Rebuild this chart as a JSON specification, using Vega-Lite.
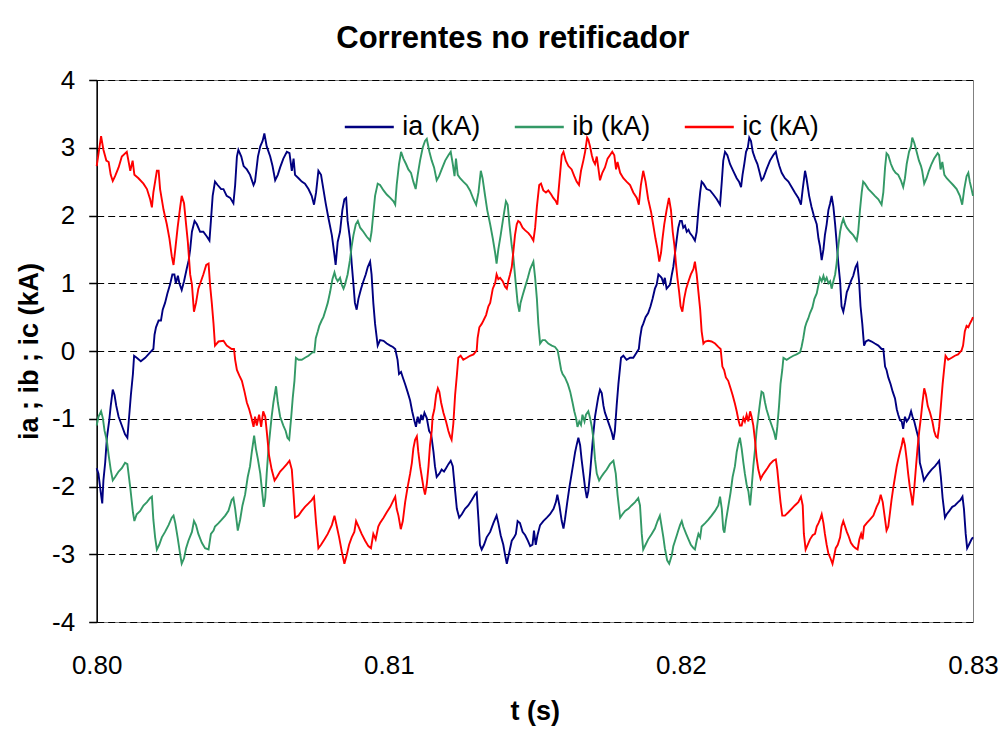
{
"$schema": "https://vega.github.io/schema/vega-lite/v6.json",
"width": 876.3, "height": 542,
"autosize": {"type": "none"},
"padding": {"left": 96.7, "top": 80, "right": 27, "bottom": 107},
"background": "white",
"config": {"font": "Liberation Sans", "view": {"stroke": "#808080", "strokeWidth": 1}},
"title": {"text": "Correntes no retificador", "fontSize": 31, "fontWeight": "bold", "color": "black", "anchor": "middle", "frame": "group", "dx": -22, "offset": 12},
"datasets": {
"ia": [
{"t":0.80000,"v":-1.73},{"t":0.80006,"v":-1.81},{"t":0.80014,"v":-2.09},{"t":0.80019,"v":-2.25},{"t":0.80023,"v":-1.91},{"t":0.80029,"v":-1.65},{"t":0.80035,"v":-1.28},{"t":0.80043,"v":-1.02},{"t":0.80048,"v":-0.81},{"t":0.80055,"v":-0.57},{"t":0.80061,"v":-0.65},{"t":0.80067,"v":-0.81},{"t":0.80075,"v":-0.97},{"t":0.80086,"v":-1.10},{"t":0.80097,"v":-1.23},{"t":0.80105,"v":-1.28},{"t":0.80111,"v":-0.97},{"t":0.80117,"v":-0.65},{"t":0.80124,"v":-0.34},{"t":0.80128,"v":-0.07},{"t":0.80137,"v":-0.10},{"t":0.80151,"v":-0.15},{"t":0.80166,"v":-0.10},{"t":0.80183,"v":-0.02},{"t":0.80194,"v":0.03},{"t":0.80198,"v":0.24},{"t":0.80203,"v":0.35},{"t":0.80212,"v":0.45},{"t":0.80220,"v":0.45},{"t":0.80226,"v":0.61},{"t":0.80234,"v":0.71},{"t":0.80242,"v":0.85},{"t":0.80251,"v":0.98},{"t":0.80259,"v":1.13},{"t":0.80266,"v":1.13},{"t":0.80271,"v":1.00},{"t":0.80278,"v":1.11},{"t":0.80283,"v":1.00},{"t":0.80291,"v":0.90},{"t":0.80299,"v":1.03},{"t":0.80308,"v":1.21},{"t":0.80315,"v":1.34},{"t":0.80320,"v":1.50},{"t":0.80326,"v":1.76},{"t":0.80335,"v":1.92},{"t":0.80343,"v":1.87},{"t":0.80354,"v":1.76},{"t":0.80365,"v":1.76},{"t":0.80377,"v":1.69},{"t":0.80386,"v":1.63},{"t":0.80391,"v":1.92},{"t":0.80397,"v":2.29},{"t":0.80405,"v":2.50},{"t":0.80414,"v":2.45},{"t":0.80426,"v":2.39},{"t":0.80434,"v":2.39},{"t":0.80445,"v":2.29},{"t":0.80457,"v":2.26},{"t":0.80468,"v":2.18},{"t":0.80474,"v":2.45},{"t":0.80480,"v":2.87},{"t":0.80485,"v":2.97},{"t":0.80495,"v":2.87},{"t":0.80503,"v":2.73},{"t":0.80514,"v":2.68},{"t":0.80525,"v":2.60},{"t":0.80537,"v":2.45},{"t":0.80542,"v":2.50},{"t":0.80552,"v":2.87},{"t":0.80560,"v":3.02},{"t":0.80568,"v":3.10},{"t":0.80574,"v":3.21},{"t":0.80582,"v":3.02},{"t":0.80594,"v":2.87},{"t":0.80602,"v":2.73},{"t":0.80611,"v":2.52},{"t":0.80620,"v":2.60},{"t":0.80628,"v":2.71},{"t":0.80639,"v":2.84},{"t":0.80651,"v":2.94},{"t":0.80660,"v":2.92},{"t":0.80668,"v":2.66},{"t":0.80674,"v":2.84},{"t":0.80679,"v":2.60},{"t":0.80691,"v":2.55},{"t":0.80702,"v":2.50},{"t":0.80713,"v":2.47},{"t":0.80725,"v":2.39},{"t":0.80736,"v":2.29},{"t":0.80744,"v":2.16},{"t":0.80751,"v":2.34},{"t":0.80759,"v":2.66},{"t":0.80768,"v":2.60},{"t":0.80776,"v":2.39},{"t":0.80784,"v":2.18},{"t":0.80793,"v":1.97},{"t":0.80805,"v":1.71},{"t":0.80813,"v":1.45},{"t":0.80818,"v":1.27},{"t":0.80825,"v":1.61},{"t":0.80833,"v":1.76},{"t":0.80841,"v":2.08},{"t":0.80848,"v":2.24},{"t":0.80854,"v":2.26},{"t":0.80859,"v":1.92},{"t":0.80867,"v":1.66},{"t":0.80873,"v":1.29},{"t":0.80879,"v":0.98},{"t":0.80884,"v":0.71},{"t":0.80890,"v":0.61},{"t":0.80896,"v":0.77},{"t":0.80905,"v":0.92},{"t":0.80913,"v":1.03},{"t":0.80921,"v":1.13},{"t":0.80928,"v":1.24},{"t":0.80936,"v":1.32},{"t":0.80941,"v":1.13},{"t":0.80947,"v":0.71},{"t":0.80953,"v":0.40},{"t":0.80962,"v":0.08},{"t":0.80970,"v":0.16},{"t":0.80982,"v":0.15},{"t":0.80993,"v":0.11},{"t":0.81005,"v":0.08},{"t":0.81014,"v":0.06},{"t":0.81022,"v":0.03},{"t":0.81030,"v":-0.13},{"t":0.81035,"v":-0.34},{"t":0.81042,"v":-0.31},{"t":0.81048,"v":-0.39},{"t":0.81056,"v":-0.49},{"t":0.81064,"v":-0.60},{"t":0.81073,"v":-0.73},{"t":0.81080,"v":-0.89},{"t":0.81087,"v":-1.02},{"t":0.81093,"v":-1.12},{"t":0.81099,"v":-0.97},{"t":0.81105,"v":-1.07},{"t":0.81111,"v":-0.94},{"t":0.81116,"v":-1.02},{"t":0.81122,"v":-0.91},{"t":0.81130,"v":-0.99},{"t":0.81138,"v":-1.18},{"t":0.81145,"v":-1.23},{"t":0.81153,"v":-1.49},{"t":0.81158,"v":-1.70},{"t":0.81164,"v":-1.86},{"t":0.81173,"v":-1.81},{"t":0.81181,"v":-1.75},{"t":0.81189,"v":-1.78},{"t":0.81196,"v":-1.73},{"t":0.81204,"v":-1.67},{"t":0.81212,"v":-1.62},{"t":0.81219,"v":-1.70},{"t":0.81226,"v":-2.02},{"t":0.81233,"v":-2.33},{"t":0.81241,"v":-2.46},{"t":0.81250,"v":-2.41},{"t":0.81261,"v":-2.33},{"t":0.81272,"v":-2.28},{"t":0.81284,"v":-2.20},{"t":0.81295,"v":-2.12},{"t":0.81301,"v":-2.09},{"t":0.81307,"v":-2.49},{"t":0.81312,"v":-2.86},{"t":0.81318,"v":-2.93},{"t":0.81326,"v":-2.86},{"t":0.81335,"v":-2.75},{"t":0.81347,"v":-2.67},{"t":0.81358,"v":-2.54},{"t":0.81369,"v":-2.43},{"t":0.81375,"v":-2.54},{"t":0.81383,"v":-2.72},{"t":0.81392,"v":-2.86},{"t":0.81398,"v":-3.01},{"t":0.81404,"v":-3.14},{"t":0.81413,"v":-2.96},{"t":0.81421,"v":-2.80},{"t":0.81429,"v":-2.75},{"t":0.81435,"v":-2.70},{"t":0.81441,"v":-2.51},{"t":0.81449,"v":-2.54},{"t":0.81458,"v":-2.67},{"t":0.81467,"v":-2.72},{"t":0.81476,"v":-2.80},{"t":0.81484,"v":-2.88},{"t":0.81492,"v":-2.86},{"t":0.81497,"v":-2.65},{"t":0.81503,"v":-2.86},{"t":0.81509,"v":-2.72},{"t":0.81518,"v":-2.57},{"t":0.81529,"v":-2.51},{"t":0.81541,"v":-2.46},{"t":0.81552,"v":-2.41},{"t":0.81564,"v":-2.33},{"t":0.81572,"v":-2.23},{"t":0.81577,"v":-2.12},{"t":0.81584,"v":-2.28},{"t":0.81592,"v":-2.51},{"t":0.81598,"v":-2.62},{"t":0.81603,"v":-2.49},{"t":0.81611,"v":-2.23},{"t":0.81618,"v":-2.02},{"t":0.81626,"v":-1.81},{"t":0.81632,"v":-1.65},{"t":0.81638,"v":-1.49},{"t":0.81643,"v":-1.39},{"t":0.81649,"v":-1.28},{"t":0.81655,"v":-1.39},{"t":0.81660,"v":-1.60},{"t":0.81666,"v":-1.81},{"t":0.81672,"v":-2.02},{"t":0.81678,"v":-2.17},{"t":0.81683,"v":-2.07},{"t":0.81689,"v":-1.81},{"t":0.81695,"v":-1.49},{"t":0.81700,"v":-1.23},{"t":0.81706,"v":-0.97},{"t":0.81712,"v":-0.81},{"t":0.81717,"v":-0.68},{"t":0.81723,"v":-0.57},{"t":0.81729,"v":-0.62},{"t":0.81735,"v":-0.81},{"t":0.81740,"v":-0.91},{"t":0.81749,"v":-1.02},{"t":0.81757,"v":-1.12},{"t":0.81763,"v":-1.20},{"t":0.81769,"v":-1.31},{"t":0.81774,"v":-1.18},{"t":0.81780,"v":-0.81},{"t":0.81786,"v":-0.49},{"t":0.81792,"v":-0.23},{"t":0.81795,"v":-0.10},{"t":0.81803,"v":-0.07},{"t":0.81814,"v":-0.13},{"t":0.81826,"v":-0.10},{"t":0.81837,"v":-0.10},{"t":0.81849,"v":-0.02},{"t":0.81856,"v":0.03},{"t":0.81860,"v":0.19},{"t":0.81866,"v":0.35},{"t":0.81871,"v":0.40},{"t":0.81879,"v":0.50},{"t":0.81888,"v":0.56},{"t":0.81896,"v":0.66},{"t":0.81903,"v":0.77},{"t":0.81911,"v":0.92},{"t":0.81917,"v":0.98},{"t":0.81923,"v":1.13},{"t":0.81928,"v":1.11},{"t":0.81934,"v":1.08},{"t":0.81940,"v":1.00},{"t":0.81945,"v":1.08},{"t":0.81951,"v":0.92},{"t":0.81957,"v":0.95},{"t":0.81963,"v":0.98},{"t":0.81969,"v":1.13},{"t":0.81974,"v":1.24},{"t":0.81980,"v":1.45},{"t":0.81986,"v":1.66},{"t":0.81991,"v":1.82},{"t":0.81997,"v":1.92},{"t":0.82003,"v":1.92},{"t":0.82008,"v":1.82},{"t":0.82014,"v":1.85},{"t":0.82020,"v":1.76},{"t":0.82026,"v":1.79},{"t":0.82031,"v":1.74},{"t":0.82040,"v":1.69},{"t":0.82048,"v":1.63},{"t":0.82054,"v":1.76},{"t":0.82060,"v":2.08},{"t":0.82066,"v":2.34},{"t":0.82071,"v":2.50},{"t":0.82077,"v":2.47},{"t":0.82088,"v":2.39},{"t":0.82100,"v":2.37},{"t":0.82111,"v":2.31},{"t":0.82123,"v":2.24},{"t":0.82134,"v":2.16},{"t":0.82140,"v":2.50},{"t":0.82145,"v":2.81},{"t":0.82151,"v":2.94},{"t":0.82159,"v":2.89},{"t":0.82168,"v":2.76},{"t":0.82179,"v":2.66},{"t":0.82191,"v":2.55},{"t":0.82199,"v":2.50},{"t":0.82206,"v":2.42},{"t":0.82211,"v":2.60},{"t":0.82217,"v":2.76},{"t":0.82223,"v":2.94},{"t":0.82229,"v":3.00},{"t":0.82234,"v":3.15},{"t":0.82240,"v":3.10},{"t":0.82246,"v":2.94},{"t":0.82254,"v":2.84},{"t":0.82262,"v":2.76},{"t":0.82268,"v":2.66},{"t":0.82276,"v":2.52},{"t":0.82282,"v":2.55},{"t":0.82293,"v":2.68},{"t":0.82305,"v":2.81},{"t":0.82316,"v":2.89},{"t":0.82325,"v":2.94},{"t":0.82330,"v":2.84},{"t":0.82337,"v":2.73},{"t":0.82345,"v":2.63},{"t":0.82356,"v":2.55},{"t":0.82368,"v":2.50},{"t":0.82379,"v":2.42},{"t":0.82390,"v":2.34},{"t":0.82402,"v":2.26},{"t":0.82411,"v":2.16},{"t":0.82417,"v":2.39},{"t":0.82425,"v":2.66},{"t":0.82430,"v":2.55},{"t":0.82439,"v":2.29},{"t":0.82447,"v":2.13},{"t":0.82455,"v":2.00},{"t":0.82465,"v":1.87},{"t":0.82471,"v":1.66},{"t":0.82476,"v":1.55},{"t":0.82482,"v":1.34},{"t":0.82488,"v":1.50},{"t":0.82493,"v":1.71},{"t":0.82499,"v":1.87},{"t":0.82505,"v":2.08},{"t":0.82511,"v":2.18},{"t":0.82516,"v":2.29},{"t":0.82522,"v":2.13},{"t":0.82528,"v":1.87},{"t":0.82533,"v":1.61},{"t":0.82539,"v":1.29},{"t":0.82545,"v":1.03},{"t":0.82550,"v":0.66},{"t":0.82556,"v":0.58},{"t":0.82562,"v":0.71},{"t":0.82568,"v":0.87},{"t":0.82573,"v":0.92},{"t":0.82582,"v":1.03},{"t":0.82590,"v":1.11},{"t":0.82598,"v":1.24},{"t":0.82604,"v":1.29},{"t":0.82610,"v":1.03},{"t":0.82615,"v":0.66},{"t":0.82621,"v":0.40},{"t":0.82627,"v":0.08},{"t":0.82633,"v":0.14},{"t":0.82642,"v":0.16},{"t":0.82653,"v":0.14},{"t":0.82664,"v":0.11},{"t":0.82676,"v":0.08},{"t":0.82687,"v":0.03},{"t":0.82693,"v":0.03},{"t":0.82699,"v":-0.23},{"t":0.82704,"v":-0.28},{"t":0.82710,"v":-0.39},{"t":0.82718,"v":-0.49},{"t":0.82725,"v":-0.60},{"t":0.82733,"v":-0.70},{"t":0.82739,"v":-0.86},{"t":0.82744,"v":-0.94},{"t":0.82750,"v":-1.02},{"t":0.82756,"v":-1.04},{"t":0.82761,"v":-1.15},{"t":0.82767,"v":-0.97},{"t":0.82773,"v":-1.04},{"t":0.82781,"v":-0.99},{"t":0.82788,"v":-0.89},{"t":0.82793,"v":-0.97},{"t":0.82799,"v":-1.04},{"t":0.82807,"v":-1.18},{"t":0.82813,"v":-1.28},{"t":0.82818,"v":-1.65},{"t":0.82824,"v":-1.75},{"t":0.82832,"v":-1.91},{"t":0.82839,"v":-1.86},{"t":0.82847,"v":-1.81},{"t":0.82858,"v":-1.75},{"t":0.82870,"v":-1.70},{"t":0.82879,"v":-1.65},{"t":0.82884,"v":-1.62},{"t":0.82890,"v":-1.86},{"t":0.82896,"v":-2.17},{"t":0.82904,"v":-2.46},{"t":0.82910,"v":-2.41},{"t":0.82919,"v":-2.36},{"t":0.82929,"v":-2.30},{"t":0.82938,"v":-2.28},{"t":0.82949,"v":-2.23},{"t":0.82957,"v":-2.20},{"t":0.82964,"v":-2.15},{"t":0.82969,"v":-2.33},{"t":0.82975,"v":-2.70},{"t":0.82980,"v":-2.91},{"t":0.82986,"v":-2.86},{"t":0.82995,"v":-2.78},{"t":0.83000,"v":-2.75}
],
"ib": [
{"t":0.80000,"v":-1.10},{"t":0.80006,"v":-0.97},{"t":0.80015,"v":-0.89},{"t":0.80021,"v":-0.99},{"t":0.80027,"v":-1.18},{"t":0.80035,"v":-1.33},{"t":0.80041,"v":-1.54},{"t":0.80048,"v":-1.75},{"t":0.80055,"v":-1.91},{"t":0.80063,"v":-1.86},{"t":0.80075,"v":-1.78},{"t":0.80086,"v":-1.73},{"t":0.80097,"v":-1.65},{"t":0.80105,"v":-1.67},{"t":0.80115,"v":-2.02},{"t":0.80124,"v":-2.38},{"t":0.80129,"v":-2.51},{"t":0.80137,"v":-2.41},{"t":0.80149,"v":-2.36},{"t":0.80160,"v":-2.28},{"t":0.80172,"v":-2.23},{"t":0.80183,"v":-2.17},{"t":0.80189,"v":-2.15},{"t":0.80194,"v":-2.49},{"t":0.80200,"v":-2.75},{"t":0.80206,"v":-2.93},{"t":0.80214,"v":-2.86},{"t":0.80223,"v":-2.75},{"t":0.80234,"v":-2.67},{"t":0.80246,"v":-2.57},{"t":0.80257,"v":-2.46},{"t":0.80263,"v":-2.43},{"t":0.80269,"v":-2.54},{"t":0.80277,"v":-2.75},{"t":0.80286,"v":-3.01},{"t":0.80291,"v":-3.14},{"t":0.80299,"v":-3.06},{"t":0.80306,"v":-2.91},{"t":0.80314,"v":-2.80},{"t":0.80326,"v":-2.67},{"t":0.80333,"v":-2.51},{"t":0.80340,"v":-2.57},{"t":0.80348,"v":-2.70},{"t":0.80360,"v":-2.83},{"t":0.80371,"v":-2.91},{"t":0.80383,"v":-2.93},{"t":0.80391,"v":-2.70},{"t":0.80400,"v":-2.65},{"t":0.80405,"v":-2.59},{"t":0.80417,"v":-2.54},{"t":0.80428,"v":-2.49},{"t":0.80440,"v":-2.43},{"t":0.80451,"v":-2.36},{"t":0.80462,"v":-2.20},{"t":0.80468,"v":-2.17},{"t":0.80474,"v":-2.33},{"t":0.80483,"v":-2.65},{"t":0.80491,"v":-2.49},{"t":0.80499,"v":-2.28},{"t":0.80508,"v":-2.12},{"t":0.80517,"v":-1.86},{"t":0.80525,"v":-1.70},{"t":0.80531,"v":-1.49},{"t":0.80539,"v":-1.25},{"t":0.80545,"v":-1.44},{"t":0.80552,"v":-1.60},{"t":0.80560,"v":-1.81},{"t":0.80565,"v":-2.02},{"t":0.80572,"v":-2.30},{"t":0.80577,"v":-2.17},{"t":0.80582,"v":-1.81},{"t":0.80588,"v":-1.44},{"t":0.80594,"v":-1.18},{"t":0.80599,"v":-0.97},{"t":0.80605,"v":-0.76},{"t":0.80611,"v":-0.60},{"t":0.80614,"v":-0.52},{"t":0.80620,"v":-0.76},{"t":0.80628,"v":-0.97},{"t":0.80639,"v":-1.10},{"t":0.80647,"v":-1.18},{"t":0.80653,"v":-1.28},{"t":0.80659,"v":-1.31},{"t":0.80666,"v":-0.97},{"t":0.80671,"v":-0.70},{"t":0.80677,"v":-0.44},{"t":0.80682,"v":-0.10},{"t":0.80691,"v":-0.13},{"t":0.80702,"v":-0.13},{"t":0.80713,"v":-0.10},{"t":0.80725,"v":-0.07},{"t":0.80739,"v":-0.02},{"t":0.80745,"v":-0.02},{"t":0.80750,"v":0.19},{"t":0.80757,"v":0.29},{"t":0.80762,"v":0.37},{"t":0.80770,"v":0.45},{"t":0.80776,"v":0.50},{"t":0.80784,"v":0.61},{"t":0.80791,"v":0.71},{"t":0.80799,"v":0.87},{"t":0.80807,"v":1.06},{"t":0.80814,"v":1.16},{"t":0.80819,"v":1.08},{"t":0.80825,"v":1.03},{"t":0.80833,"v":1.08},{"t":0.80839,"v":0.98},{"t":0.80845,"v":0.92},{"t":0.80850,"v":0.98},{"t":0.80859,"v":1.13},{"t":0.80867,"v":1.34},{"t":0.80873,"v":1.55},{"t":0.80879,"v":1.71},{"t":0.80887,"v":1.87},{"t":0.80894,"v":1.92},{"t":0.80902,"v":1.82},{"t":0.80913,"v":1.76},{"t":0.80924,"v":1.69},{"t":0.80936,"v":1.63},{"t":0.80941,"v":1.76},{"t":0.80947,"v":2.03},{"t":0.80953,"v":2.29},{"t":0.80962,"v":2.47},{"t":0.80970,"v":2.45},{"t":0.80982,"v":2.37},{"t":0.80993,"v":2.31},{"t":0.81005,"v":2.26},{"t":0.81016,"v":2.21},{"t":0.81022,"v":2.16},{"t":0.81027,"v":2.45},{"t":0.81035,"v":2.76},{"t":0.81042,"v":2.94},{"t":0.81050,"v":2.84},{"t":0.81059,"v":2.76},{"t":0.81067,"v":2.68},{"t":0.81076,"v":2.63},{"t":0.81084,"v":2.50},{"t":0.81092,"v":2.39},{"t":0.81099,"v":2.60},{"t":0.81107,"v":2.81},{"t":0.81116,"v":3.00},{"t":0.81124,"v":3.10},{"t":0.81130,"v":3.13},{"t":0.81139,"v":2.94},{"t":0.81147,"v":2.81},{"t":0.81155,"v":2.71},{"t":0.81164,"v":2.52},{"t":0.81172,"v":2.58},{"t":0.81181,"v":2.68},{"t":0.81193,"v":2.81},{"t":0.81204,"v":2.89},{"t":0.81212,"v":2.94},{"t":0.81219,"v":2.76},{"t":0.81225,"v":2.58},{"t":0.81230,"v":2.84},{"t":0.81236,"v":2.60},{"t":0.81244,"v":2.55},{"t":0.81255,"v":2.50},{"t":0.81267,"v":2.45},{"t":0.81278,"v":2.37},{"t":0.81290,"v":2.24},{"t":0.81299,"v":2.16},{"t":0.81307,"v":2.34},{"t":0.81315,"v":2.66},{"t":0.81321,"v":2.55},{"t":0.81329,"v":2.31},{"t":0.81337,"v":2.08},{"t":0.81347,"v":1.87},{"t":0.81356,"v":1.66},{"t":0.81364,"v":1.45},{"t":0.81369,"v":1.29},{"t":0.81375,"v":1.50},{"t":0.81383,"v":1.71},{"t":0.81392,"v":1.97},{"t":0.81401,"v":2.21},{"t":0.81407,"v":2.16},{"t":0.81413,"v":1.87},{"t":0.81421,"v":1.55},{"t":0.81426,"v":1.40},{"t":0.81435,"v":0.98},{"t":0.81441,"v":0.71},{"t":0.81447,"v":0.58},{"t":0.81451,"v":0.71},{"t":0.81458,"v":0.82},{"t":0.81467,"v":0.95},{"t":0.81476,"v":1.08},{"t":0.81484,"v":1.21},{"t":0.81492,"v":1.29},{"t":0.81495,"v":1.32},{"t":0.81501,"v":1.08},{"t":0.81507,"v":0.77},{"t":0.81512,"v":0.40},{"t":0.81518,"v":0.11},{"t":0.81526,"v":0.16},{"t":0.81535,"v":0.16},{"t":0.81546,"v":0.11},{"t":0.81558,"v":0.08},{"t":0.81569,"v":0.06},{"t":0.81578,"v":0.01},{"t":0.81584,"v":-0.13},{"t":0.81590,"v":-0.28},{"t":0.81595,"v":-0.34},{"t":0.81603,"v":-0.39},{"t":0.81613,"v":-0.49},{"t":0.81621,"v":-0.60},{"t":0.81629,"v":-0.76},{"t":0.81635,"v":-0.89},{"t":0.81641,"v":-0.99},{"t":0.81646,"v":-1.12},{"t":0.81652,"v":-1.04},{"t":0.81658,"v":-1.09},{"t":0.81663,"v":-0.94},{"t":0.81670,"v":-1.04},{"t":0.81675,"v":-0.94},{"t":0.81683,"v":-0.89},{"t":0.81689,"v":-0.99},{"t":0.81695,"v":-1.12},{"t":0.81700,"v":-1.28},{"t":0.81706,"v":-1.60},{"t":0.81712,"v":-1.81},{"t":0.81720,"v":-1.91},{"t":0.81727,"v":-1.86},{"t":0.81735,"v":-1.81},{"t":0.81746,"v":-1.75},{"t":0.81757,"v":-1.67},{"t":0.81769,"v":-1.62},{"t":0.81777,"v":-1.81},{"t":0.81783,"v":-2.12},{"t":0.81792,"v":-2.46},{"t":0.81800,"v":-2.41},{"t":0.81809,"v":-2.36},{"t":0.81820,"v":-2.33},{"t":0.81831,"v":-2.28},{"t":0.81843,"v":-2.23},{"t":0.81854,"v":-2.17},{"t":0.81860,"v":-2.28},{"t":0.81866,"v":-2.70},{"t":0.81871,"v":-2.93},{"t":0.81879,"v":-2.86},{"t":0.81888,"v":-2.78},{"t":0.81900,"v":-2.70},{"t":0.81911,"v":-2.62},{"t":0.81920,"v":-2.51},{"t":0.81928,"v":-2.43},{"t":0.81934,"v":-2.59},{"t":0.81940,"v":-2.75},{"t":0.81945,"v":-2.91},{"t":0.81953,"v":-3.09},{"t":0.81960,"v":-3.14},{"t":0.81969,"v":-3.01},{"t":0.81974,"v":-2.88},{"t":0.81980,"v":-2.80},{"t":0.81986,"v":-2.72},{"t":0.81991,"v":-2.65},{"t":0.81997,"v":-2.57},{"t":0.82003,"v":-2.51},{"t":0.82008,"v":-2.59},{"t":0.82018,"v":-2.70},{"t":0.82026,"v":-2.78},{"t":0.82034,"v":-2.86},{"t":0.82043,"v":-2.91},{"t":0.82048,"v":-2.93},{"t":0.82054,"v":-2.80},{"t":0.82060,"v":-2.70},{"t":0.82066,"v":-2.75},{"t":0.82071,"v":-2.59},{"t":0.82083,"v":-2.54},{"t":0.82094,"v":-2.49},{"t":0.82105,"v":-2.43},{"t":0.82117,"v":-2.36},{"t":0.82128,"v":-2.28},{"t":0.82134,"v":-2.15},{"t":0.82140,"v":-2.33},{"t":0.82145,"v":-2.63},{"t":0.82149,"v":-2.68},{"t":0.82154,"v":-2.51},{"t":0.82162,"v":-2.30},{"t":0.82170,"v":-2.09},{"t":0.82177,"v":-1.86},{"t":0.82185,"v":-1.70},{"t":0.82191,"v":-1.49},{"t":0.82197,"v":-1.36},{"t":0.82202,"v":-1.28},{"t":0.82208,"v":-1.44},{"t":0.82214,"v":-1.65},{"t":0.82219,"v":-1.81},{"t":0.82225,"v":-1.97},{"t":0.82231,"v":-2.07},{"t":0.82237,"v":-2.28},{"t":0.82242,"v":-2.02},{"t":0.82248,"v":-1.70},{"t":0.82254,"v":-1.44},{"t":0.82259,"v":-1.18},{"t":0.82265,"v":-0.97},{"t":0.82271,"v":-0.76},{"t":0.82276,"v":-0.60},{"t":0.82282,"v":-0.62},{"t":0.82288,"v":-0.76},{"t":0.82293,"v":-0.86},{"t":0.82302,"v":-0.99},{"t":0.82311,"v":-1.10},{"t":0.82319,"v":-1.20},{"t":0.82325,"v":-1.31},{"t":0.82330,"v":-1.12},{"t":0.82336,"v":-0.81},{"t":0.82341,"v":-0.49},{"t":0.82347,"v":-0.28},{"t":0.82351,"v":-0.10},{"t":0.82362,"v":-0.13},{"t":0.82373,"v":-0.10},{"t":0.82385,"v":-0.07},{"t":0.82396,"v":-0.05},{"t":0.82408,"v":-0.02},{"t":0.82413,"v":0.06},{"t":0.82419,"v":0.19},{"t":0.82425,"v":0.35},{"t":0.82430,"v":0.42},{"t":0.82436,"v":0.48},{"t":0.82442,"v":0.56},{"t":0.82450,"v":0.64},{"t":0.82457,"v":0.77},{"t":0.82465,"v":0.85},{"t":0.82471,"v":0.98},{"t":0.82476,"v":1.08},{"t":0.82482,"v":1.03},{"t":0.82488,"v":1.11},{"t":0.82493,"v":1.03},{"t":0.82499,"v":1.08},{"t":0.82505,"v":1.00},{"t":0.82511,"v":1.03},{"t":0.82516,"v":0.92},{"t":0.82522,"v":1.03},{"t":0.82528,"v":1.13},{"t":0.82533,"v":1.29},{"t":0.82539,"v":1.55},{"t":0.82545,"v":1.76},{"t":0.82550,"v":1.87},{"t":0.82556,"v":1.95},{"t":0.82562,"v":1.87},{"t":0.82568,"v":1.82},{"t":0.82579,"v":1.76},{"t":0.82590,"v":1.71},{"t":0.82602,"v":1.63},{"t":0.82607,"v":1.76},{"t":0.82613,"v":2.08},{"t":0.82619,"v":2.34},{"t":0.82624,"v":2.50},{"t":0.82630,"v":2.47},{"t":0.82642,"v":2.39},{"t":0.82653,"v":2.34},{"t":0.82664,"v":2.29},{"t":0.82676,"v":2.24},{"t":0.82687,"v":2.16},{"t":0.82693,"v":2.34},{"t":0.82699,"v":2.71},{"t":0.82704,"v":2.92},{"t":0.82710,"v":2.89},{"t":0.82719,"v":2.76},{"t":0.82727,"v":2.68},{"t":0.82735,"v":2.63},{"t":0.82744,"v":2.60},{"t":0.82753,"v":2.52},{"t":0.82761,"v":2.42},{"t":0.82767,"v":2.55},{"t":0.82773,"v":2.76},{"t":0.82781,"v":2.94},{"t":0.82788,"v":3.02},{"t":0.82792,"v":3.15},{"t":0.82799,"v":3.07},{"t":0.82807,"v":2.94},{"t":0.82815,"v":2.81},{"t":0.82822,"v":2.73},{"t":0.82826,"v":2.66},{"t":0.82833,"v":2.47},{"t":0.82841,"v":2.55},{"t":0.82849,"v":2.66},{"t":0.82858,"v":2.76},{"t":0.82867,"v":2.84},{"t":0.82879,"v":2.92},{"t":0.82884,"v":2.89},{"t":0.82889,"v":2.68},{"t":0.82895,"v":2.79},{"t":0.82902,"v":2.60},{"t":0.82910,"v":2.55},{"t":0.82921,"v":2.50},{"t":0.82932,"v":2.45},{"t":0.82944,"v":2.39},{"t":0.82955,"v":2.29},{"t":0.82963,"v":2.16},{"t":0.82970,"v":2.39},{"t":0.82978,"v":2.58},{"t":0.82984,"v":2.63},{"t":0.82989,"v":2.50},{"t":0.82995,"v":2.39},{"t":0.83000,"v":2.29}
],
"ic": [
{"t":0.80000,"v":2.73},{"t":0.80015,"v":3.17},{"t":0.80023,"v":2.97},{"t":0.80033,"v":2.81},{"t":0.80041,"v":2.79},{"t":0.80048,"v":2.60},{"t":0.80055,"v":2.51},{"t":0.80063,"v":2.58},{"t":0.80075,"v":2.71},{"t":0.80086,"v":2.87},{"t":0.80103,"v":2.94},{"t":0.80115,"v":2.66},{"t":0.80123,"v":2.81},{"t":0.80129,"v":2.60},{"t":0.80143,"v":2.55},{"t":0.80160,"v":2.47},{"t":0.80172,"v":2.39},{"t":0.80183,"v":2.24},{"t":0.80189,"v":2.12},{"t":0.80194,"v":2.34},{"t":0.80200,"v":2.50},{"t":0.80206,"v":2.66},{"t":0.80212,"v":2.66},{"t":0.80217,"v":2.39},{"t":0.80229,"v":2.08},{"t":0.80240,"v":1.87},{"t":0.80249,"v":1.66},{"t":0.80257,"v":1.40},{"t":0.80263,"v":1.27},{"t":0.80269,"v":1.50},{"t":0.80277,"v":1.82},{"t":0.80286,"v":2.13},{"t":0.80291,"v":2.29},{"t":0.80299,"v":2.18},{"t":0.80306,"v":1.87},{"t":0.80312,"v":1.61},{"t":0.80320,"v":1.13},{"t":0.80326,"v":0.98},{"t":0.80333,"v":0.58},{"t":0.80340,"v":0.71},{"t":0.80348,"v":0.92},{"t":0.80357,"v":1.03},{"t":0.80365,"v":1.13},{"t":0.80375,"v":1.27},{"t":0.80383,"v":1.29},{"t":0.80388,"v":0.98},{"t":0.80394,"v":0.71},{"t":0.80400,"v":0.40},{"t":0.80405,"v":0.08},{"t":0.80417,"v":0.14},{"t":0.80434,"v":0.15},{"t":0.80445,"v":0.08},{"t":0.80462,"v":0.03},{"t":0.80470,"v":0.03},{"t":0.80474,"v":-0.13},{"t":0.80480,"v":-0.28},{"t":0.80488,"v":-0.36},{"t":0.80497,"v":-0.44},{"t":0.80506,"v":-0.60},{"t":0.80514,"v":-0.76},{"t":0.80522,"v":-0.86},{"t":0.80529,"v":-0.97},{"t":0.80537,"v":-1.12},{"t":0.80542,"v":-0.97},{"t":0.80548,"v":-1.10},{"t":0.80556,"v":-0.94},{"t":0.80563,"v":-1.12},{"t":0.80570,"v":-0.89},{"t":0.80577,"v":-0.97},{"t":0.80582,"v":-1.18},{"t":0.80590,"v":-1.54},{"t":0.80599,"v":-1.75},{"t":0.80609,"v":-1.91},{"t":0.80617,"v":-1.86},{"t":0.80628,"v":-1.78},{"t":0.80639,"v":-1.73},{"t":0.80651,"v":-1.67},{"t":0.80660,"v":-1.62},{"t":0.80668,"v":-1.75},{"t":0.80674,"v":-2.12},{"t":0.80679,"v":-2.46},{"t":0.80691,"v":-2.43},{"t":0.80702,"v":-2.36},{"t":0.80713,"v":-2.30},{"t":0.80725,"v":-2.25},{"t":0.80736,"v":-2.20},{"t":0.80744,"v":-2.15},{"t":0.80751,"v":-2.54},{"t":0.80759,"v":-2.91},{"t":0.80768,"v":-2.86},{"t":0.80780,"v":-2.78},{"t":0.80791,"v":-2.70},{"t":0.80805,"v":-2.57},{"t":0.80814,"v":-2.43},{"t":0.80822,"v":-2.59},{"t":0.80830,"v":-2.75},{"t":0.80839,"v":-2.96},{"t":0.80848,"v":-3.14},{"t":0.80856,"v":-3.01},{"t":0.80864,"v":-2.86},{"t":0.80873,"v":-2.75},{"t":0.80882,"v":-2.67},{"t":0.80888,"v":-2.51},{"t":0.80896,"v":-2.59},{"t":0.80907,"v":-2.70},{"t":0.80919,"v":-2.80},{"t":0.80930,"v":-2.88},{"t":0.80939,"v":-2.91},{"t":0.80947,"v":-2.70},{"t":0.80955,"v":-2.78},{"t":0.80964,"v":-2.59},{"t":0.80970,"v":-2.54},{"t":0.80982,"v":-2.46},{"t":0.80993,"v":-2.38},{"t":0.81005,"v":-2.30},{"t":0.81016,"v":-2.20},{"t":0.81022,"v":-2.15},{"t":0.81027,"v":-2.33},{"t":0.81033,"v":-2.43},{"t":0.81041,"v":-2.63},{"t":0.81048,"v":-2.51},{"t":0.81056,"v":-2.23},{"t":0.81064,"v":-2.02},{"t":0.81073,"v":-1.81},{"t":0.81079,"v":-1.65},{"t":0.81084,"v":-1.44},{"t":0.81090,"v":-1.31},{"t":0.81096,"v":-1.26},{"t":0.81101,"v":-1.49},{"t":0.81107,"v":-1.70},{"t":0.81113,"v":-1.86},{"t":0.81119,"v":-2.02},{"t":0.81124,"v":-2.12},{"t":0.81130,"v":-1.97},{"t":0.81136,"v":-1.70},{"t":0.81141,"v":-1.39},{"t":0.81147,"v":-1.18},{"t":0.81150,"v":-0.97},{"t":0.81156,"v":-0.86},{"t":0.81162,"v":-0.65},{"t":0.81168,"v":-0.55},{"t":0.81173,"v":-0.60},{"t":0.81179,"v":-0.76},{"t":0.81187,"v":-0.91},{"t":0.81196,"v":-1.04},{"t":0.81204,"v":-1.18},{"t":0.81210,"v":-1.26},{"t":0.81215,"v":-1.31},{"t":0.81221,"v":-1.07},{"t":0.81227,"v":-0.65},{"t":0.81233,"v":-0.36},{"t":0.81238,"v":-0.10},{"t":0.81246,"v":-0.07},{"t":0.81255,"v":-0.13},{"t":0.81267,"v":-0.10},{"t":0.81278,"v":-0.07},{"t":0.81290,"v":-0.05},{"t":0.81301,"v":0.01},{"t":0.81304,"v":0.19},{"t":0.81310,"v":0.35},{"t":0.81318,"v":0.40},{"t":0.81324,"v":0.45},{"t":0.81333,"v":0.53},{"t":0.81341,"v":0.66},{"t":0.81347,"v":0.71},{"t":0.81356,"v":0.92},{"t":0.81364,"v":1.00},{"t":0.81369,"v":1.13},{"t":0.81375,"v":1.06},{"t":0.81381,"v":1.08},{"t":0.81390,"v":1.03},{"t":0.81398,"v":0.95},{"t":0.81404,"v":0.92},{"t":0.81409,"v":1.03},{"t":0.81415,"v":1.13},{"t":0.81421,"v":1.24},{"t":0.81426,"v":1.45},{"t":0.81432,"v":1.71},{"t":0.81438,"v":1.87},{"t":0.81443,"v":1.92},{"t":0.81449,"v":1.90},{"t":0.81458,"v":1.82},{"t":0.81467,"v":1.78},{"t":0.81478,"v":1.74},{"t":0.81487,"v":1.69},{"t":0.81495,"v":1.63},{"t":0.81501,"v":1.82},{"t":0.81507,"v":2.13},{"t":0.81515,"v":2.45},{"t":0.81521,"v":2.47},{"t":0.81529,"v":2.37},{"t":0.81538,"v":2.34},{"t":0.81546,"v":2.37},{"t":0.81556,"v":2.31},{"t":0.81563,"v":2.26},{"t":0.81572,"v":2.21},{"t":0.81577,"v":2.16},{"t":0.81584,"v":2.50},{"t":0.81592,"v":2.89},{"t":0.81598,"v":2.94},{"t":0.81606,"v":2.81},{"t":0.81615,"v":2.73},{"t":0.81626,"v":2.68},{"t":0.81635,"v":2.58},{"t":0.81643,"v":2.50},{"t":0.81651,"v":2.45},{"t":0.81658,"v":2.66},{"t":0.81666,"v":2.81},{"t":0.81672,"v":2.94},{"t":0.81679,"v":3.15},{"t":0.81683,"v":3.12},{"t":0.81689,"v":3.02},{"t":0.81695,"v":2.89},{"t":0.81700,"v":2.81},{"t":0.81706,"v":2.76},{"t":0.81712,"v":2.87},{"t":0.81717,"v":2.71},{"t":0.81723,"v":2.52},{"t":0.81731,"v":2.63},{"t":0.81740,"v":2.71},{"t":0.81749,"v":2.84},{"t":0.81757,"v":2.89},{"t":0.81765,"v":2.94},{"t":0.81772,"v":2.89},{"t":0.81778,"v":2.68},{"t":0.81783,"v":2.79},{"t":0.81792,"v":2.63},{"t":0.81803,"v":2.55},{"t":0.81814,"v":2.50},{"t":0.81826,"v":2.45},{"t":0.81837,"v":2.34},{"t":0.81849,"v":2.26},{"t":0.81856,"v":2.16},{"t":0.81863,"v":2.45},{"t":0.81871,"v":2.66},{"t":0.81879,"v":2.50},{"t":0.81888,"v":2.24},{"t":0.81898,"v":2.05},{"t":0.81905,"v":1.87},{"t":0.81913,"v":1.66},{"t":0.81920,"v":1.50},{"t":0.81926,"v":1.32},{"t":0.81932,"v":1.45},{"t":0.81937,"v":1.66},{"t":0.81943,"v":1.87},{"t":0.81951,"v":2.08},{"t":0.81959,"v":2.26},{"t":0.81966,"v":2.08},{"t":0.81972,"v":1.76},{"t":0.81978,"v":1.55},{"t":0.81983,"v":1.29},{"t":0.81988,"v":1.08},{"t":0.81994,"v":0.87},{"t":0.81999,"v":0.66},{"t":0.82005,"v":0.58},{"t":0.82011,"v":0.77},{"t":0.82018,"v":0.92},{"t":0.82026,"v":1.03},{"t":0.82034,"v":1.13},{"t":0.82043,"v":1.21},{"t":0.82048,"v":1.32},{"t":0.82054,"v":1.13},{"t":0.82060,"v":0.87},{"t":0.82066,"v":0.61},{"t":0.82071,"v":0.29},{"t":0.82077,"v":0.11},{"t":0.82083,"v":0.14},{"t":0.82094,"v":0.15},{"t":0.82105,"v":0.14},{"t":0.82117,"v":0.11},{"t":0.82128,"v":0.06},{"t":0.82136,"v":0.03},{"t":0.82142,"v":-0.23},{"t":0.82148,"v":-0.28},{"t":0.82154,"v":-0.39},{"t":0.82162,"v":-0.44},{"t":0.82170,"v":-0.55},{"t":0.82177,"v":-0.65},{"t":0.82185,"v":-0.78},{"t":0.82191,"v":-0.89},{"t":0.82197,"v":-1.02},{"t":0.82202,"v":-1.10},{"t":0.82208,"v":-1.10},{"t":0.82214,"v":-0.99},{"t":0.82219,"v":-1.04},{"t":0.82225,"v":-0.94},{"t":0.82231,"v":-1.04},{"t":0.82237,"v":-0.89},{"t":0.82242,"v":-0.97},{"t":0.82248,"v":-1.10},{"t":0.82254,"v":-1.33},{"t":0.82259,"v":-1.57},{"t":0.82265,"v":-1.75},{"t":0.82273,"v":-1.89},{"t":0.82280,"v":-1.83},{"t":0.82288,"v":-1.78},{"t":0.82296,"v":-1.73},{"t":0.82305,"v":-1.67},{"t":0.82316,"v":-1.62},{"t":0.82325,"v":-1.60},{"t":0.82330,"v":-1.75},{"t":0.82336,"v":-2.02},{"t":0.82341,"v":-2.23},{"t":0.82347,"v":-2.43},{"t":0.82356,"v":-2.43},{"t":0.82368,"v":-2.38},{"t":0.82379,"v":-2.33},{"t":0.82390,"v":-2.28},{"t":0.82402,"v":-2.23},{"t":0.82411,"v":-2.15},{"t":0.82417,"v":-2.28},{"t":0.82421,"v":-2.70},{"t":0.82427,"v":-2.93},{"t":0.82434,"v":-2.86},{"t":0.82442,"v":-2.78},{"t":0.82451,"v":-2.72},{"t":0.82459,"v":-2.70},{"t":0.82465,"v":-2.59},{"t":0.82471,"v":-2.54},{"t":0.82476,"v":-2.49},{"t":0.82482,"v":-2.41},{"t":0.82488,"v":-2.54},{"t":0.82493,"v":-2.70},{"t":0.82499,"v":-2.86},{"t":0.82505,"v":-2.99},{"t":0.82513,"v":-3.07},{"t":0.82519,"v":-3.14},{"t":0.82524,"v":-3.04},{"t":0.82530,"v":-2.91},{"t":0.82537,"v":-2.86},{"t":0.82545,"v":-2.75},{"t":0.82550,"v":-2.59},{"t":0.82556,"v":-2.51},{"t":0.82562,"v":-2.59},{"t":0.82568,"v":-2.67},{"t":0.82573,"v":-2.72},{"t":0.82582,"v":-2.83},{"t":0.82590,"v":-2.88},{"t":0.82598,"v":-2.91},{"t":0.82605,"v":-2.93},{"t":0.82611,"v":-2.78},{"t":0.82617,"v":-2.70},{"t":0.82622,"v":-2.78},{"t":0.82627,"v":-2.59},{"t":0.82636,"v":-2.54},{"t":0.82647,"v":-2.49},{"t":0.82659,"v":-2.43},{"t":0.82670,"v":-2.30},{"t":0.82678,"v":-2.23},{"t":0.82684,"v":-2.12},{"t":0.82691,"v":-2.23},{"t":0.82699,"v":-2.49},{"t":0.82704,"v":-2.65},{"t":0.82710,"v":-2.59},{"t":0.82716,"v":-2.38},{"t":0.82721,"v":-2.20},{"t":0.82727,"v":-2.02},{"t":0.82733,"v":-1.86},{"t":0.82739,"v":-1.70},{"t":0.82744,"v":-1.60},{"t":0.82750,"v":-1.49},{"t":0.82756,"v":-1.39},{"t":0.82761,"v":-1.28},{"t":0.82767,"v":-1.39},{"t":0.82773,"v":-1.60},{"t":0.82778,"v":-1.81},{"t":0.82784,"v":-2.02},{"t":0.82790,"v":-2.17},{"t":0.82793,"v":-2.28},{"t":0.82799,"v":-2.02},{"t":0.82805,"v":-1.70},{"t":0.82810,"v":-1.44},{"t":0.82816,"v":-1.18},{"t":0.82822,"v":-0.97},{"t":0.82827,"v":-0.76},{"t":0.82833,"v":-0.55},{"t":0.82839,"v":-0.65},{"t":0.82845,"v":-0.81},{"t":0.82853,"v":-0.91},{"t":0.82861,"v":-1.04},{"t":0.82867,"v":-1.18},{"t":0.82873,"v":-1.26},{"t":0.82879,"v":-1.28},{"t":0.82884,"v":-1.12},{"t":0.82890,"v":-0.81},{"t":0.82896,"v":-0.49},{"t":0.82902,"v":-0.23},{"t":0.82906,"v":-0.07},{"t":0.82915,"v":-0.13},{"t":0.82927,"v":-0.10},{"t":0.82938,"v":-0.07},{"t":0.82949,"v":-0.05},{"t":0.82961,"v":0.01},{"t":0.82966,"v":0.08},{"t":0.82972,"v":0.29},{"t":0.82978,"v":0.37},{"t":0.82984,"v":0.35},{"t":0.82989,"v":0.40},{"t":0.82995,"v":0.45},{"t":0.83000,"v":0.50}
]
},
"encoding": {
"x": {"field": "t", "type": "quantitative", "scale": {"domain": [0.8, 0.83], "nice": false, "zero": false},
 "axis": {"title": "t (s)", "values": [0.8, 0.81, 0.82, 0.83], "format": ".2f", "grid": false, "domain": false, "ticks": false, "labelFlush": false, "labelPadding": 30, "labelFontSize": 26, "labelColor": "black", "titleFontSize": 27, "titleFontWeight": "bold", "titleColor": "black", "titlePadding": 20}},
"y": {"field": "v", "type": "quantitative", "scale": {"domain": [-4, 4], "nice": false},
 "axis": {"title": "ia ; ib ; ic (kA)", "values": [-4, -3, -2, -1, 0, 1, 2, 3, 4], "labelExpr": "datum.value + ''", "grid": true, "gridColor": "black", "gridDash": [7, 4], "gridWidth": 1, "domainColor": "black", "domainWidth": 1.5, "tickColor": "black", "tickSize": 8, "tickWidth": 1.5, "labelPadding": 14, "labelFontSize": 26, "labelColor": "black", "titleFontSize": 27, "titleFontWeight": "bold", "titleColor": "black", "titlePadding": 8}}
},
"layer": [
{"data": {"name": "ia"}, "mark": {"type": "line", "strokeWidth": 1.9},
 "encoding": {"color": {"datum": "ia (kA)", "type": "nominal", "scale": {"domain": ["ia (kA)", "ib (kA)", "ic (kA)"], "range": ["#000080", "#339966", "#FF0000"]},
  "legend": {"title": null, "orient": "none", "legendX": 246.6, "legendY": 21, "direction": "horizontal", "symbolType": "stroke", "symbolSize": 2401, "symbolStrokeWidth": 2.5, "labelFontSize": 27, "labelOffset": 7, "columnPadding": 28, "padding": 0, "labelColor": "black"}}}},
{"data": {"name": "ib"}, "mark": {"type": "line", "strokeWidth": 1.9},
 "encoding": {"color": {"datum": "ib (kA)", "type": "nominal"}}},
{"data": {"name": "ic"}, "mark": {"type": "line", "strokeWidth": 1.9},
 "encoding": {"color": {"datum": "ic (kA)", "type": "nominal"}}}
]
}
